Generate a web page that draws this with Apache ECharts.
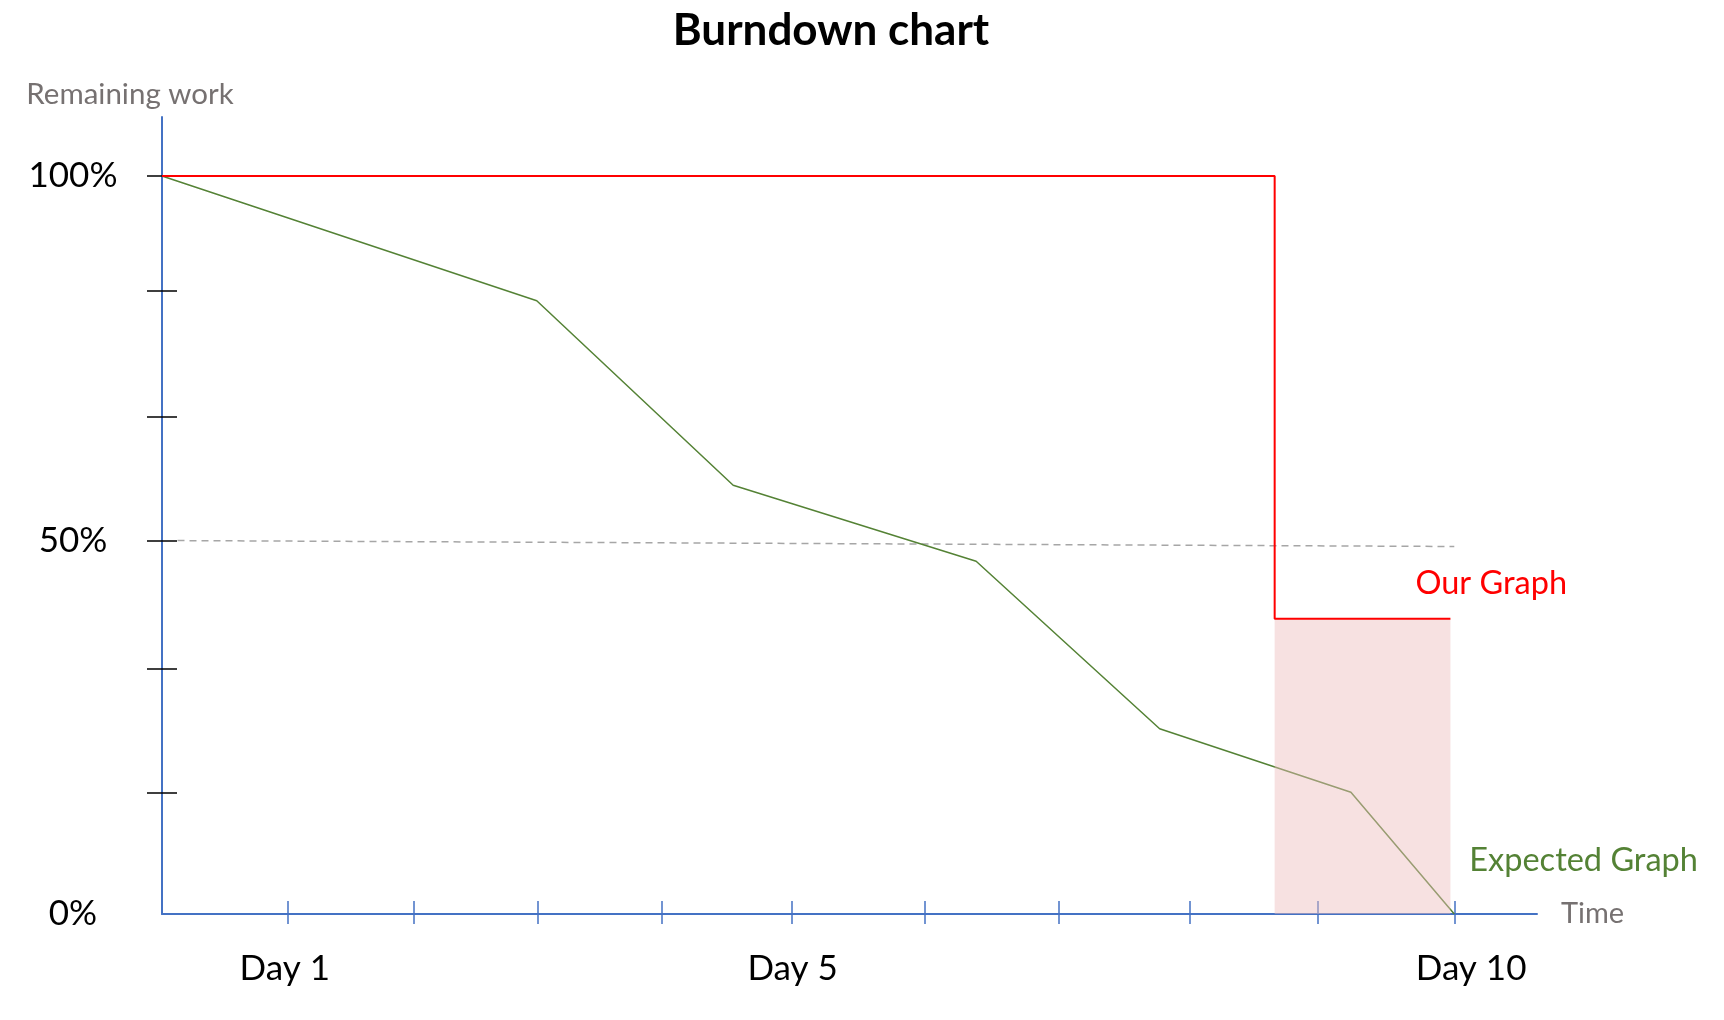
<!DOCTYPE html>
<html>
<head>
<meta charset="utf-8">
<title>Burndown chart</title>
<script src="https://cdn.jsdelivr.net/npm/echarts@6/dist/echarts.min.js"></script>
<style>
  html, body { margin: 0; padding: 0; background: #fff; }
  #chart { width: 1724px; height: 1020px; }
</style>
</head>
<body>
<div id="chart"></div>
<script>
// values (x in days, y in % of work left)
const ourGraph = [[0, 100], [8.61, 100], [8.61, 40], [9.97, 40]];
const expectedGraph = [[0, 100], [2.90, 83.1], [4.42, 58.1], [6.30, 47.8], [7.72, 25.1], [9.20, 16.5], [10, 0]];
const halfLine = [[0.12, 50.6], [10, 49.8]];
const gapArea = [[8.61, 40], [9.97, 40]];

// the hand-drawn ticks are not quite evenly spaced
const dayTicks = [0.97, 1.95, 2.91, 3.87, 4.87, 5.90, 6.94, 7.95, 8.94, 10];
const dayLabelAt = [0.95, 4.88, 10.13];
const dayLabels = ['Day 1', 'Day 5', 'Day 10'];
const workTicks = [16.4, 33.3, 50.6, 67.4, 84.4, 100];
const workLabelAt = [0, 50.6, 100];
const workLabels = ['0%', '50%', '100%'];

const FONT = 'Lato, "Open Sans", sans-serif';
const BLUE = '#4472C4';

const getOption = () => {
  const xBase = { type: 'value', min: 0, max: 10.64, gridIndex: 0, splitLine: { show: false } };
  const yBase = { type: 'value', min: 0, max: 108, gridIndex: 0, splitLine: { show: false } };
  return {
    backgroundColor: '#fff',
    animation: false,
    title: {
      text: 'Burndown chart',
      left: 826,
      textAlign: 'center',
      top: 4,
      textStyle: { fontFamily: FONT, fontWeight: 'bold', fontSize: 44, color: '#000' }
    },
    grid: { left: 162, right: 187, top: 117, bottom: 106 },
    xAxis: [
      Object.assign({}, xBase, {
        name: 'Time',
        nameLocation: 'end',
        nameGap: 24,
        nameTextStyle: { fontFamily: FONT, fontSize: 29, color: '#767171', padding: [6, 0, 0, 0] },
        axisLine: { show: true, lineStyle: { color: BLUE, width: 2 } },
        axisTick: { show: true, customValues: dayTicks, length: 10, lineStyle: { color: BLUE, width: 1.5 } },
        axisLabel: {
          customValues: dayLabelAt,
          formatter: v => dayLabels[dayLabelAt.indexOf(v)],
          margin: 37,
          fontFamily: FONT, fontSize: 35, color: '#000'
        }
      }),
      Object.assign({}, xBase, {
        position: 'bottom',
        axisLine: { show: false },
        axisTick: { show: true, inside: true, customValues: dayTicks, length: 13, lineStyle: { color: BLUE, width: 1.5 } },
        axisLabel: { show: false }
      })
    ],
    yAxis: [
      Object.assign({}, yBase, {
        name: 'Remaining work',
        nameLocation: 'end',
        nameGap: 8,
        nameTextStyle: { fontFamily: FONT, fontSize: 29.5, color: '#767171', align: 'center', padding: [0, 64, 0, 0] },
        axisLine: { show: true, lineStyle: { color: BLUE, width: 2 } },
        axisTick: { show: true, customValues: workTicks, length: 15, lineStyle: { color: '#000', width: 1.5 } },
        axisLabel: {
          customValues: workLabelAt,
          formatter: v => workLabels[workLabelAt.indexOf(v)],
          align: 'center',
          margin: 89,
          fontFamily: FONT, fontSize: 35, color: '#000'
        }
      }),
      Object.assign({}, yBase, {
        position: 'left',
        axisLine: { show: false },
        axisTick: { show: true, inside: true, customValues: workTicks, length: 15, lineStyle: { color: '#000', width: 1.5 } },
        axisLabel: { show: false }
      })
    ],
    series: [
      {
        name: 'Half',
        type: 'line',
        data: halfLine,
        showSymbol: false,
        z: 2,
        lineStyle: { color: '#A6A6A6', width: 1.5, type: [7, 5] }
      },
      {
        name: 'Expected Graph',
        type: 'line',
        data: expectedGraph,
        showSymbol: false,
        z: 3,
        lineStyle: { color: '#548235', width: 1.5 },
        endLabel: {
          show: true,
          formatter: 'Expected Graph',
          distance: 0,
          offset: [15, -53],
          align: 'left',
          fontFamily: FONT, fontSize: 32.5, color: '#548235'
        }
      },
      {
        name: 'Gap',
        type: 'line',
        data: gapArea,
        showSymbol: false,
        z: 4,
        lineStyle: { width: 0, opacity: 0 },
        areaStyle: { color: 'rgba(238,188,188,0.45)', opacity: 1 }
      },
      {
        name: 'Our Graph',
        type: 'line',
        data: ourGraph,
        showSymbol: false,
        z: 5,
        lineStyle: { color: '#FF0000', width: 2 },
        endLabel: {
          show: true,
          formatter: 'Our Graph',
          distance: 0,
          offset: [-35, -35],
          align: 'left',
          fontFamily: FONT, fontSize: 32.5, color: '#FF0000'
        }
      }
    ]
  };
};

const initChart = () => {
  const chart = echarts.init(document.getElementById('chart'));
  chart.setOption(getOption());
};

window.addEventListener('load', () => {
  initChart();
});
</script>
</body>
</html>
